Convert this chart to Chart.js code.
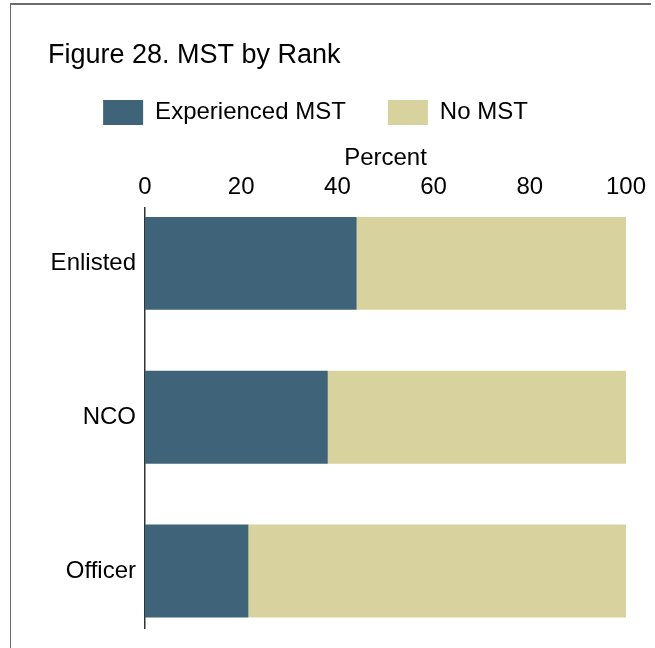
<!DOCTYPE html>
<html>
<head>
<meta charset="utf-8">
<script src="https://cdn.jsdelivr.net/npm/chart.js@4.4.1/dist/chart.umd.min.js"></script>
<style>
    body { margin: 0; background: #fff; }
</style>
</head>
<body>
<canvas id="chartRank" width="655" height="648"></canvas>
<script>
    var ranks = ['Enlisted', 'NCO', 'Officer'];
    var experiencedMst = [44, 38, 21.5];
    var noMst = [56, 62, 78.5];
    var percentTicks = [0, 20, 40, 60, 80, 100];

    var figureTitle = 'Figure 28. MST by Rank';
    var fontFamily = '"Liberation Sans", Arial, sans-serif';

    // bars sit on a linear index axis so the empty room above/below can be tuned
    var toPoints = function (values) {
        return values.map(function (v, i) {
            return {x: v, y: i};
        });
    };

    // frame around the figure + title text
    var framePlugin = {
        id: 'frame',
        beforeDraw: function (chart) {
            var ctx = chart.ctx;
            ctx.save();
            ctx.fillStyle = '#fff';
            ctx.fillRect(0, 0, chart.width, chart.height);
            ctx.strokeStyle = '#6b6b6b';
            ctx.lineWidth = 2;
            ctx.beginPath();
            ctx.moveTo(10, 4);
            ctx.lineTo(651, 4);
            ctx.stroke();
            ctx.lineWidth = 1;
            ctx.beginPath();
            ctx.moveTo(10.5, 4);
            ctx.lineTo(10.5, chart.height);
            ctx.stroke();
            ctx.fillStyle = '#000';
            ctx.font = '27px ' + fontFamily;
            ctx.textBaseline = 'alphabetic';
            ctx.fillText(figureTitle, 48, 63);
            ctx.restore();
        }
    };

    var ctx = document.getElementById('chartRank').getContext('2d');
    var myChart = new Chart(ctx, {
        type: 'bar',
        data: {
            datasets: [
                {
                    label: 'Experienced MST',
                    data: toPoints(experiencedMst),
                    backgroundColor: '#3f6479',
                    borderWidth: 0
                },
                {
                    label: 'No MST',
                    data: toPoints(noMst),
                    backgroundColor: '#d8d29f',
                    borderWidth: 0
                }
            ]
        },
        options: {
            indexAxis: 'y',
            responsive: false,
            animation: false,
            layout: {
                padding: {left: 5, right: 29, top: 58, bottom: 20}
            },
            datasets: {
                bar: {
                    grouped: false,
                    categoryPercentage: 1,
                    barPercentage: 0.604
                }
            },
            scales: {
                x: {
                    type: 'linear',
                    position: 'top',
                    stacked: true,
                    min: 0,
                    max: 100,
                    afterBuildTicks: function (scale) {
                        scale.ticks = percentTicks.map(function (v) { return {value: v}; });
                    },
                    grid: {display: false, drawTicks: false},
                    border: {display: false},
                    title: {
                        display: true,
                        text: 'Percent',
                        color: '#000',
                        font: {family: fontFamily, size: 24},
                        padding: {top: 8.6, bottom: -6.4}
                    },
                    ticks: {
                        color: '#000',
                        font: {family: fontFamily, size: 24},
                        padding: 6.6,
                        maxRotation: 0
                    }
                },
                y: {
                    type: 'linear',
                    reverse: true,
                    offset: false,
                    bounds: 'data',
                    min: -0.36,
                    max: ranks.length - 1 + 0.37,
                    afterBuildTicks: function (scale) {
                        scale.ticks = ranks.map(function (r, i) { return {value: i}; });
                    },
                    grid: {display: false, drawTicks: false, offset: false},
                    border: {display: true, color: '#333', width: 1.5},
                    ticks: {
                        color: '#000',
                        font: {family: fontFamily, size: 24},
                        padding: 9,
                        callback: function (value) {
                            return ranks[value];
                        }
                    },
                    afterFit: function (scale) {
                        scale.width = 140;
                        scale.paddingTop = 0;
                        scale.paddingBottom = 0;
                    }
                }
            },
            plugins: {
                legend: {
                    position: 'top',
                    labels: {
                        color: '#000',
                        font: {family: fontFamily, size: 24},
                        boxWidth: 40,
                        boxHeight: 25,
                        padding: 42
                    }
                },
                tooltip: {enabled: false}
            }
        },
        plugins: [framePlugin]
    });
</script>
</body>
</html>
